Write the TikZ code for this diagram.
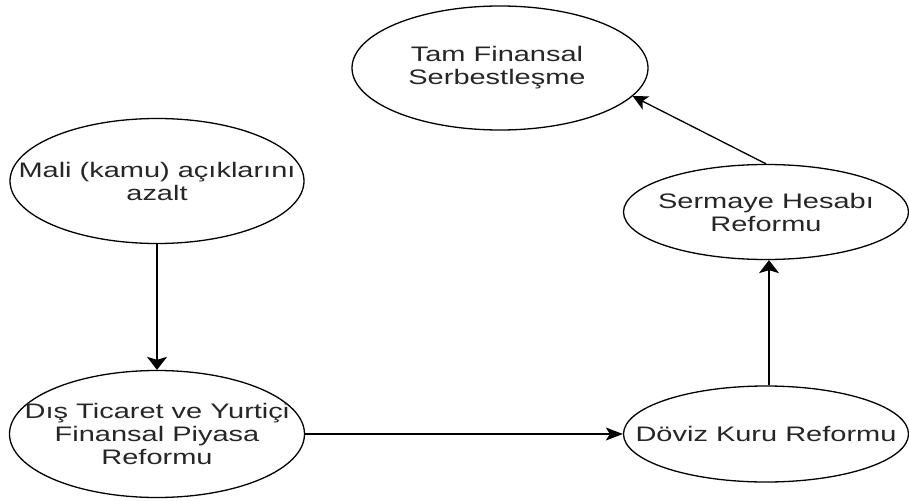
\documentclass[tikz,border=0pt]{standalone}
\usepackage{fontspec}
\setmainfont{Liberation Sans}
\usetikzlibrary{shapes.geometric,arrows.meta}
\newcommand{\stx}[1]{\scalebox{1.38}[1]{#1}}
\tikzset{
  oval/.style={ellipse, draw=black, line width=1.3pt, inner sep=0pt},
  lbl/.style={align=center, text=black!85, font=\fontsize{21}{23}\selectfont, inner sep=0pt},
  link/.style={line width=1.3pt},
  vtip/.style={-{Stealth[length=13pt,width=20pt,inset=3pt]}},
  htip/.style={-{Stealth[length=17pt,width=13pt,inset=4pt]}},
  dtip/.style={-{Stealth[length=15pt,width=15pt,inset=4pt]}}
}
\begin{document}
\begin{tikzpicture}[x=1pt,y=-1pt]
\useasboundingbox[fill=white] (0,0) rectangle (909,500);
% ellipses
\node[oval, minimum width=296pt, minimum height=124pt] (e1) at (500,68) {};
\node[oval, minimum width=294pt, minimum height=125pt] (e2) at (157,181) {};
\node[oval, minimum width=285pt, minimum height=95pt] (e3) at (766,212) {};
\node[oval, minimum width=295pt, minimum height=127pt] (e4) at (157,434) {};
\node[oval, minimum width=285pt, minimum height=96pt] (e5) at (766,434) {};
% labels
\node[lbl] (t1) at ([xshift=-3pt]e1.center) {\stx{Tam Finansal}\\\stx{Serbestleşme}};
\node[lbl] (t2) at (e2.center) {\stx{Mali (kamu) açıklarını}\\\stx{azalt}};
\node[lbl] (t3) at (e3.center) {\stx{Sermaye Hesabı}\\\stx{Reformu}};
\node[lbl] (t4) at (e4.center) {\stx{Dış Ticaret ve Yurtiçi}\\\stx{Finansal Piyasa}\\\stx{Reformu}};
\node[lbl] (t5) at (e5.center) {\stx{Döviz Kuru Reformu}};
% connectors
\draw[link, vtip] (e2.south) -- (e4.north);
\draw[link, htip] (e4.east) -- (e5.west);
\draw[link, vtip] ([xshift=3pt]e5.north) -- ([xshift=3pt]e3.south);
\draw[link, dtip] (e3.north) -- (e1.-12);
\end{tikzpicture}
\end{document}
